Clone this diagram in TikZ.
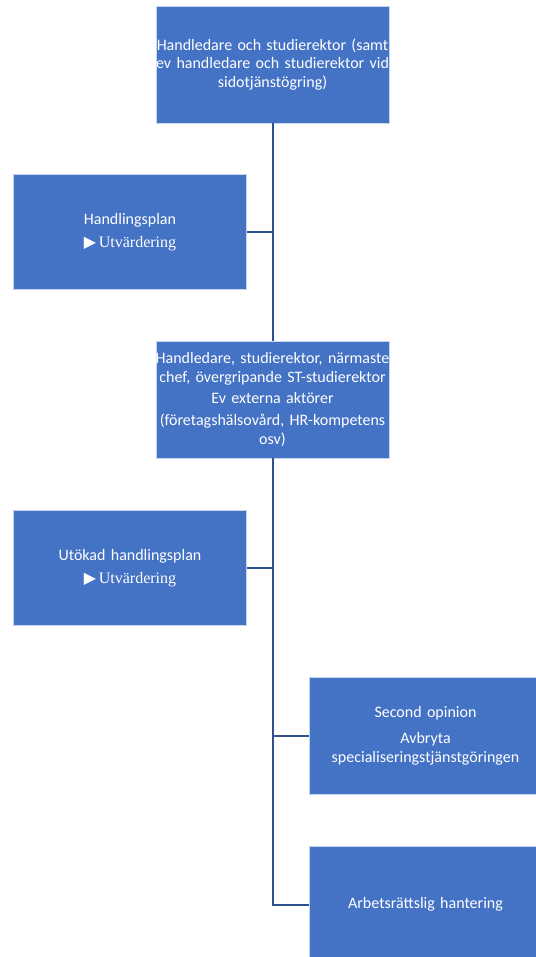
\documentclass[tikz,border=0pt]{standalone}
\usepackage{fontspec}
\setmainfont{Carlito}
\newfontfamily\symfont{DejaVu Sans}
\newfontfamily\serifont{Liberation Serif}
\usepackage{xcolor}
\definecolor{boxblue}{RGB}{68,114,196}
\definecolor{lineblue}{RGB}{47,82,143}
\newcommand{\utv}{{\symfont ▶}\,{\serifont Utvärdering}}

\begin{document}
\begin{tikzpicture}[x=1pt, y=-1pt, font=\fontsize{16}{18.7}\selectfont,
    box/.style={draw=boxblue!30, line width=0.8pt, fill=boxblue, text=white, minimum width=233pt, minimum height=117pt, text width=245pt, align=center, inner xsep=-6pt, inner ysep=0pt},
    conn/.style={draw=lineblue, line width=2pt}]
    \useasboundingbox (0,0) rectangle (535,957);
    \node[box] (handl) at (272.5,64.5) {Handledare och studierektor (samt\\ ev handledare och studierektor vid\\ sidotjänstögring)};
    \node[box, minimum height=115pt] (plan) at (130,232) {Handlingsplan\\[4pt] \utv};
    \node[box] (grupp) at (272.5,399.5) {Handledare, studierektor, närmaste\\ chef, övergripande ST-studierektor\\[3pt] Ev externa aktörer\\[3pt] (företagshälsovård, HR-kompetens\\ osv)};
    \node[box, minimum height=115pt] (utokad) at (130,568) {Utökad handlingsplan\\[4pt] \utv};
    \node[box] (second) at (425.5,736) {Second opinion\\[7pt] Avbryta\\ specialiseringstjänstgöringen};
    \node[box] (arbets) at (425.5,904.5) {Arbetsrättslig hantering};
    \draw[conn] (handl) -- (grupp);
    \draw[conn] (plan) -- (plan -| handl);
    \draw[conn] (grupp.south) |- (arbets);
    \draw[conn] (utokad) -- (utokad -| grupp);
    \draw[conn] (second) -- (second -| grupp);
  \end{tikzpicture}
\end{document}
